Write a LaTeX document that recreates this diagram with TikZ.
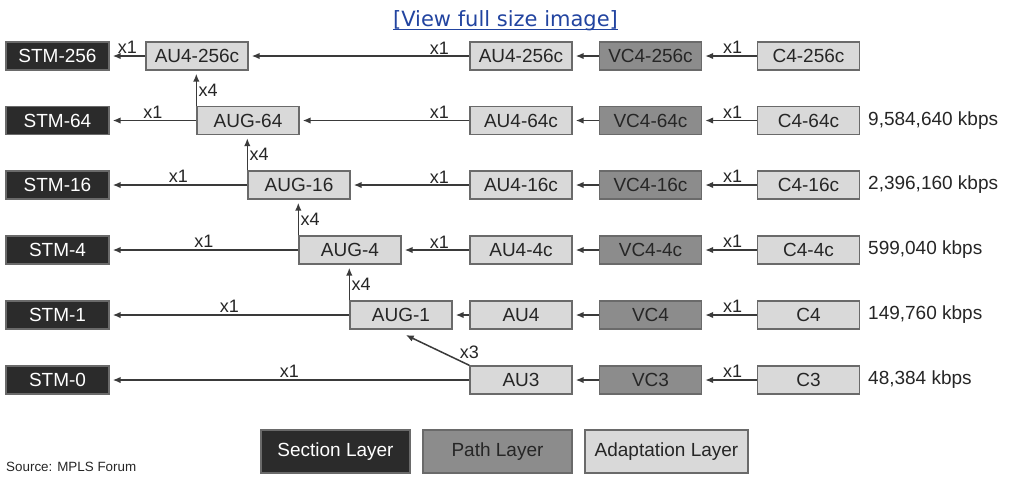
\documentclass[tikz,border=0pt]{standalone}
\usepackage{fontspec}
\setmainfont{Liberation Sans}
\newfontfamily\linkfont{DejaVu Sans}
\usetikzlibrary{arrows.meta,calc}
\definecolor{secfill}{HTML}{2B2B2B}
\definecolor{pathfill}{HTML}{8C8C8C}
\definecolor{adaptfill}{HTML}{D9D9D9}
\definecolor{boxline}{HTML}{6A6A6A}
\definecolor{arrline}{HTML}{3A3A3A}
\definecolor{txt}{HTML}{262626}
\definecolor{linkblue}{HTML}{2244A0}
\begin{document}
\begin{tikzpicture}[x=1pt,y=-1pt,
  box/.style={draw=boxline, line width=1.4pt, minimum width=102pt, minimum height=28pt,
    inner sep=0pt, text=txt, font=\fontsize{19}{20}\selectfont},
  sec/.style={box, fill=secfill, text=white, minimum width=103pt},
  pathl/.style={box, fill=pathfill},
  adapt/.style={box, fill=adaptfill},
  arr/.style={draw=arrline, line width=1.5pt, -{Latex[length=8pt,width=6.5pt]}, shorten >=3pt},
  lab/.style={font=\fontsize{18}{18}\selectfont, text=txt, inner sep=1.5pt},
  rate/.style={anchor=west, inner sep=0pt, text=txt, font=\fontsize{19}{20}\selectfont}
]
\useasboundingbox[fill=white] (0,0) rectangle (1009,477);

% link
\node[font=\linkfont\fontsize{21}{22}\selectfont, text=linkblue, inner sep=0pt] (link) at (505.5,21) {[View full size image]};
\draw[linkblue, line width=1pt] ([yshift=-3pt]link.base west) -- ([yshift=-3pt]link.base east);

% row 1
\node[sec] (S256) at (57.5,56) {STM-256};
\node[adapt] (A256L) at (197,56) {AU4-256c};
\node[adapt] (A256R) at (521,56) {AU4-256c};
\node[pathl] (V256) at (650.5,56) {VC4-256c};
\node[adapt] (C256) at (808.5,56) {C4-256c};

% row 2
\node[sec] (S64) at (57.5,120.5) {STM-64};
\node[adapt] (G64) at (248,120.5) {AUG-64};
\node[adapt] (A64) at (521,120.5) {AU4-64c};
\node[pathl] (V64) at (650.5,120.5) {VC4-64c};
\node[adapt] (C64) at (808.5,120.5) {C4-64c};
\node[rate] (R64) at (868,120.5) {9,584,640 kbps};

% row 3
\node[sec] (S16) at (57.5,185) {STM-16};
\node[adapt] (G16) at (299,185) {AUG-16};
\node[adapt] (A16) at (521,185) {AU4-16c};
\node[pathl] (V16) at (650.5,185) {VC4-16c};
\node[adapt] (C16) at (808.5,185) {C4-16c};
\node[rate] (R16) at (868,185) {2,396,160 kbps};

% row 4
\node[sec] (S4) at (57.5,250) {STM-4};
\node[adapt] (G4) at (350,250) {AUG-4};
\node[adapt] (A4) at (521,250) {AU4-4c};
\node[pathl] (V4) at (650.5,250) {VC4-4c};
\node[adapt] (C4c) at (808.5,250) {C4-4c};
\node[rate] (R4) at (868,250) {599,040 kbps};

% row 5
\node[sec] (S1) at (57.5,315) {STM-1};
\node[adapt] (G1) at (401,315) {AUG-1};
\node[adapt] (AU4) at (521,315) {AU4};
\node[pathl] (VC4) at (650.5,315) {VC4};
\node[adapt] (C4) at (808.5,315) {C4};
\node[rate] (R1) at (868,315) {149,760 kbps};

% row 6
\node[sec] (S0) at (57.5,380) {STM-0};
\node[adapt] (AU3) at (521,380) {AU3};
\node[pathl] (VC3) at (650.5,380) {VC3};
\node[adapt] (C3) at (808.5,380) {C3};
\node[rate] (R0) at (868,380) {48,384 kbps};

% legend
\node[sec, minimum width=149pt, minimum height=43pt] (L1) at (335.5,451.5) {Section Layer};
\node[pathl, minimum width=149pt, minimum height=43pt] (L2) at (497.5,451.5) {Path Layer};
\node[adapt, minimum width=163pt, minimum height=43pt] (L3) at (666.5,451.5) {Adaptation Layer};
\node[anchor=west, inner sep=0pt, text=txt, font=\fontsize{13.4}{14}\selectfont] (src) at (6,467) {Source: MPLS Forum};

% C -> VC arrows
\foreach \c/\v in {C256/V256, C64/V64, C16/V16, C4c/V4, C4/VC4, C3/VC3}{
  \draw[arr] (\c) -- node[lab, above, xshift=3pt]{x1} (\v);
}
% VC -> AU arrows
\foreach \v/\a in {V256/A256R, V64/A64, V16/A16, V4/A4, VC4/AU4, VC3/AU3}{
  \draw[arr] (\v) -- (\a);
}
% AU -> AUG arrows
\foreach \a/\g in {A256R/A256L, A64/G64, A16/G16, A4/G4}{
  \draw[arr] (\a) -- (\g);
  \path (\a.west) ++(-30,0) node[lab, above]{x1};
}
\draw[arr] (AU4) -- (G1);

% to STM
\foreach \g/\s in {A256L/S256, G64/S64, G16/S16, G4/S4, G1/S1, AU3/S0}{
  \draw[arr] (\g) -- node[lab, above]{x1} (\s);
}

% x4 vertical arrows
\foreach \g/\t in {G64/A256L, G16/G64, G4/G16, G1/G4}{
  \draw[arr] (\g.north west) -- node[lab, right, pos=0.45]{x4} (\g.north west |- \t.south);
}

% x3 diagonal
\draw[arr] (AU3.north west) -- ([xshift=2pt,yshift=-4pt]G1.south);
\node[lab, above=5pt] (x3) at (AU3.north west) {x3};
\end{tikzpicture}
\end{document}
